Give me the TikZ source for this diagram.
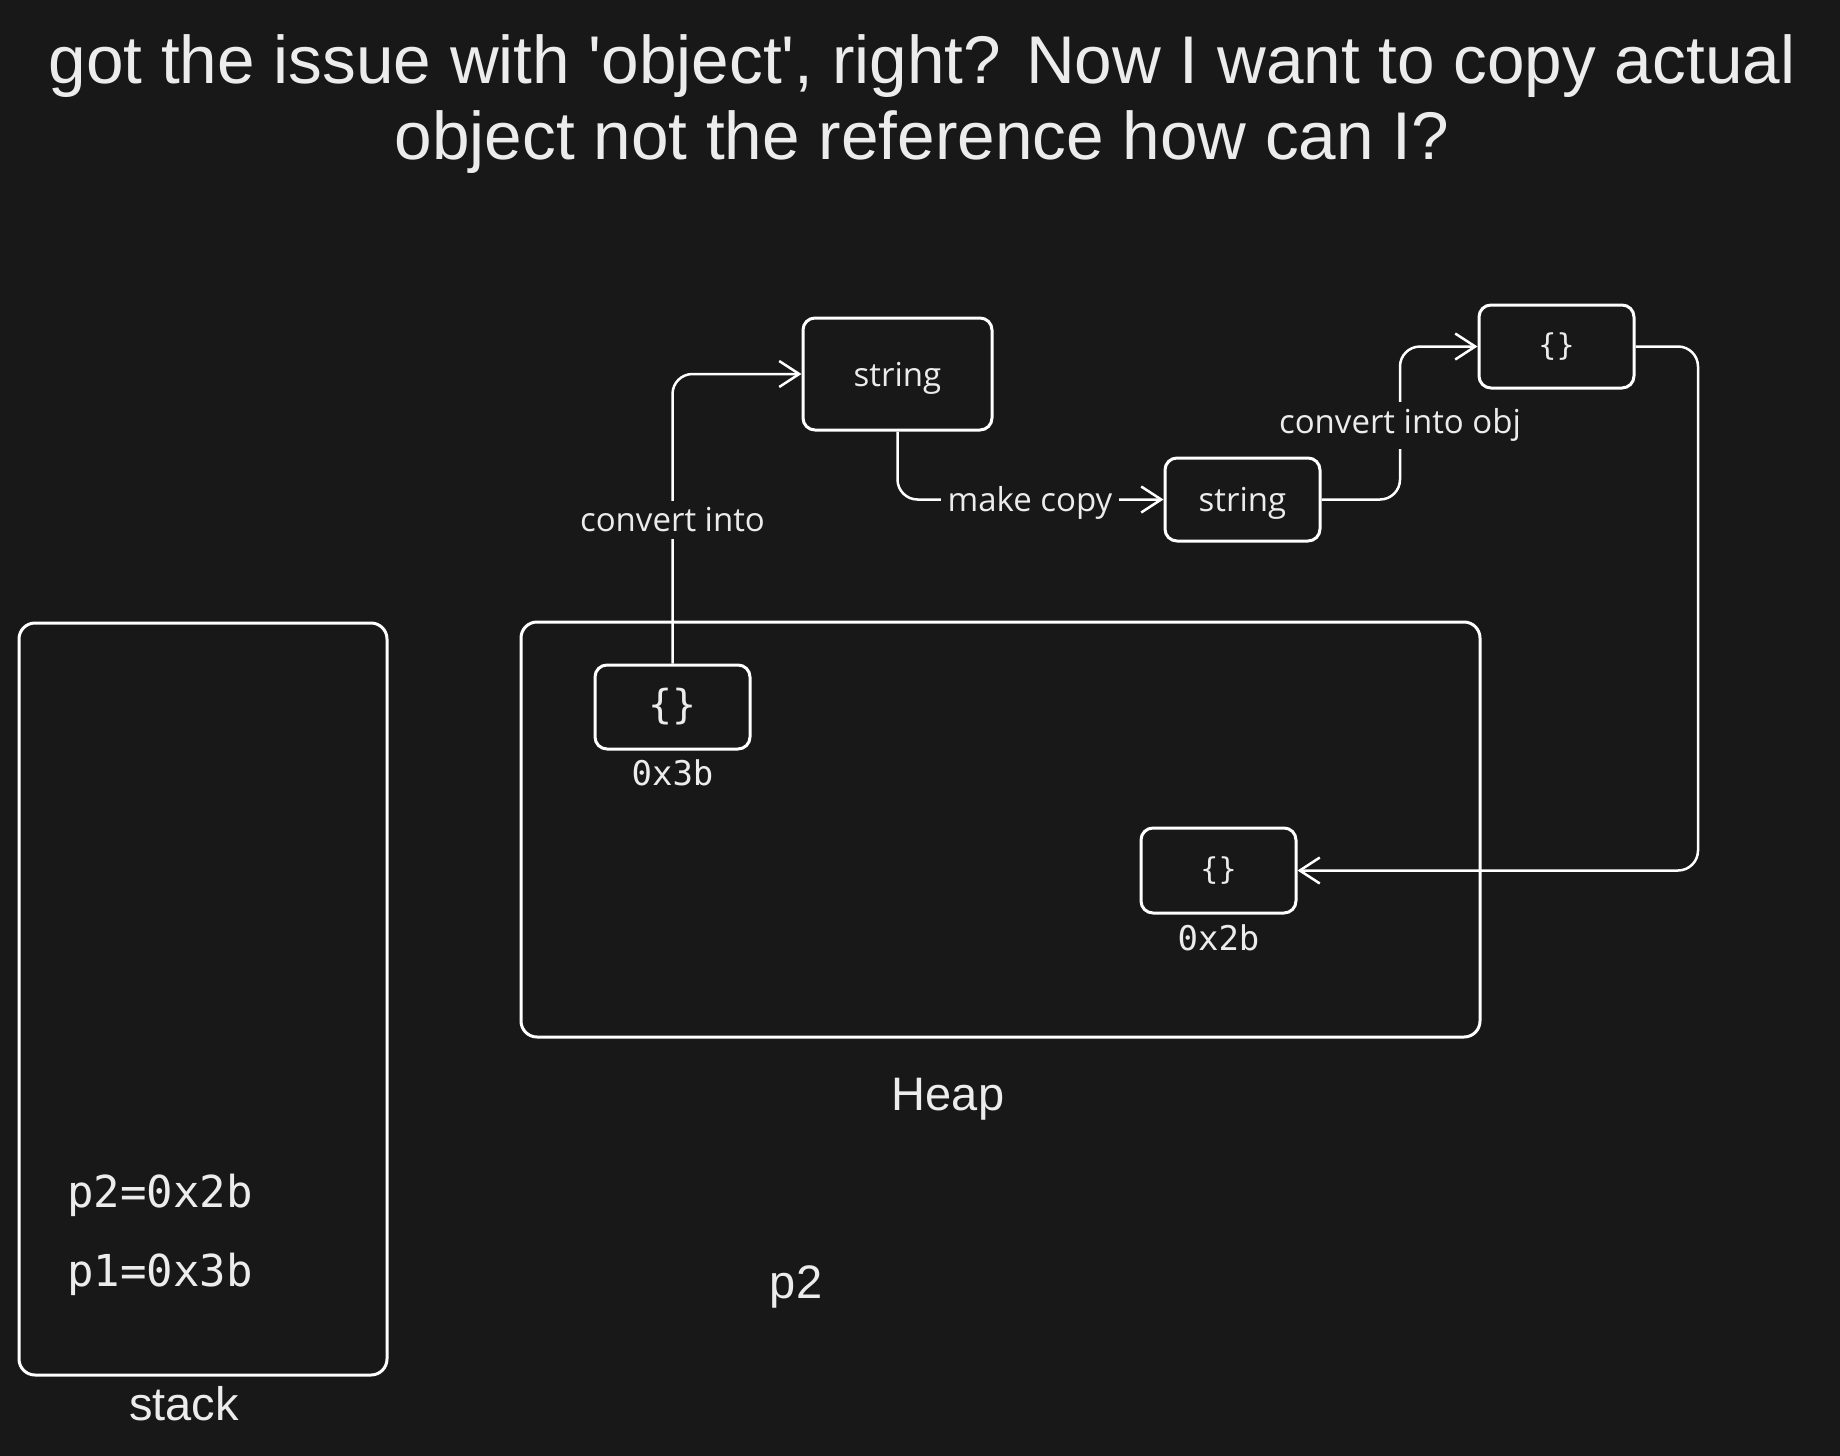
\documentclass[tikz,border=0pt]{standalone}
\usepackage{fontspec}
\setmainfont{Liberation Sans}[Ligatures=TeXOff]
\newfontfamily\lblfont{Open Sans}
\newfontfamily\codefont{DejaVu Sans Mono}
\usetikzlibrary{arrows.meta}
\definecolor{bg}{RGB}{24,24,24}
\definecolor{fg}{RGB}{236,236,236}
\newcommand\fsz[2]{\fontsize{#1}{#2}\selectfont}
\tikzset{
  box/.style={draw=white, line width=3pt, rounded corners=12pt, inner sep=0pt, text=fg},
  bigbox/.style={draw=white, line width=3pt, rounded corners=16pt, inner sep=0pt},
  conn/.style={draw=white, line width=2.5pt, rounded corners=20pt, -{Straight Barb[length=20pt,width=26pt,line width=2.5pt]}},
  lbl/.style={fill=bg, text=fg, font=\lblfont\fsz{33}{38}, inner sep=7pt, yshift=-3pt},
  boxtxt/.style={font=\lblfont\fsz{33}{38}, text depth=0pt},
  codetxt/.style={text=fg, font=\codefont\fsz{34}{40}, inner sep=0pt},
  plain/.style={text=fg, font=\fsz{47}{56}, inner sep=0pt, yshift=-4pt},
}
\begin{document}
\begin{tikzpicture}[x=1pt,y=-1pt]
\fill[bg] (0,0) rectangle (1840,1456);
\useasboundingbox (0,0) rectangle (1840,1456);

% title
\node[text=fg, font=\fsz{67.5}{76}, align=center] (title) at (922,104)
  {got the issue with 'object', right? Now I want to copy actual\\object not the reference how can I?};

% big containers
\node[bigbox, minimum width=368pt, minimum height=752pt] (stk) at (203,999) {};
\node[bigbox, minimum width=959pt, minimum height=415pt] (heap) at (1000.5,829.5) {};
\node[plain] (stklbl) at (184,1400) {stack};
\node[plain] (heaplbl) at (948,1095) {Heap};
\node[plain] (p2lbl) at (796,1283) {p2};
\node[text=fg, font=\codefont\fsz{44}{52}, inner sep=0pt, anchor=west] (p2v) at (67,1195) {p2=0x2b};
\node[text=fg, font=\codefont\fsz{44}{52}, inner sep=0pt, anchor=west] (p1v) at (67,1274) {p1=0x3b};

% object boxes
\node[box, minimum width=155pt, minimum height=84pt, font=\codefont\fsz{40}{46}] (o1) at (672.5,707) {\{\}};
\node[codetxt] (o1lbl) at (672.5,773) {0x3b};
\node[box, minimum width=155pt, minimum height=85pt, font=\codefont\fsz{30}{36}] (o2) at (1218.5,870.5) {\{\}};
\node[codetxt] (o2lbl) at (1218.5,938) {0x2b};
\node[box, minimum width=155pt, minimum height=83pt, font=\codefont\fsz{30}{36}] (o3) at (1556.5,346.5) {\{\}};

% string boxes
\node[box, boxtxt, minimum width=189pt, minimum height=112pt] (s1) at (897.5,374) {string};
\node[box, boxtxt, minimum width=155pt, minimum height=83pt] (s2) at (1242.5,499.5) {string};

% connectors
\coordinate (c3) at (1400,422);
\coordinate (c4) at (1698,600);
\draw[conn] (o1.north) |- (s1.west);
\draw[conn] (s1.south) |- (s2.west);
\draw[conn] (s2.east) -| (c3) |- (o3.west);
\draw[conn] (o3.east) -| (c4) |- (o2.east);

% connector labels
\node[lbl] (l1) at (672.5,517) {convert into};
\node[lbl] (l2) at (1030,499.5) {make copy};
\node[lbl] (l3) at (1400,422) {convert into obj};
\end{tikzpicture}
\end{document}
